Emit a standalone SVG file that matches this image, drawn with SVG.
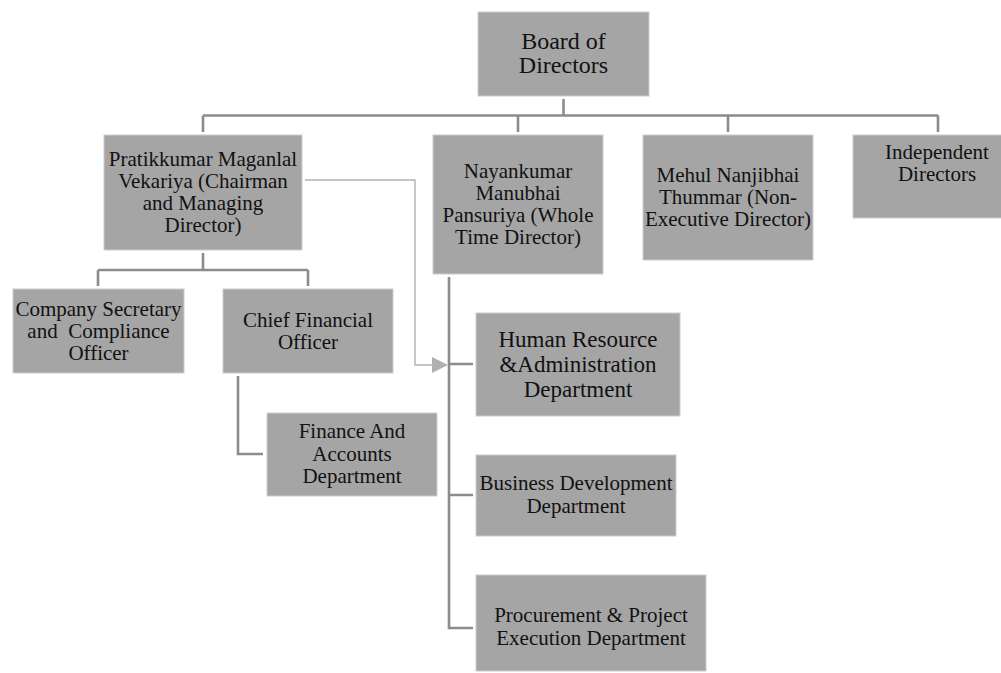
<svg xmlns="http://www.w3.org/2000/svg" width="1001" height="673" viewBox="0 0 1001 673">
<defs>
<style>
.box{fill:#a5a5a5;stroke:#cdcdcd;stroke-width:1}
.t{font-family:"Liberation Serif","Times New Roman",serif;font-size:21px;fill:#111;text-anchor:middle}
.big{font-size:23px}
.bd{font-size:24px}
.ln{fill:none;stroke:#8c8c8c;stroke-width:2.6}
.lt{fill:none;stroke:#b0b0b0;stroke-width:1.4}
</style>
</defs>
<rect width="1001" height="673" fill="#ffffff"/>
<g id="connectors">
<path class="ln" d="M563.5,99 V116 M203,115.5 H938 M203,115.5 V132 M518,115.5 V132 M728,115.5 V132 M938,115.5 V132"/>
<path class="ln" d="M203,253 V270 M98,270 H308 M98,270 V286 M308,270 V286"/>
<path class="ln" d="M238,376 V454 H263"/>
<path class="ln" d="M449,277 V628 H473 M449,364 H473 M449,495 H473"/>
<path class="lt" d="M305,180 H415 V365 H433"/>
<polygon points="432,357 448,365 432,373" fill="#b0b0b0"/>
</g>
<g id="board">
<rect class="box" x="478" y="12" width="171" height="84"/>
<text class="t bd" x="563.5" y="49">Board of</text>
<text class="t bd" x="563.5" y="73">Directors</text>
</g>
<g id="pratik">
<rect class="box" x="104" y="135" width="198" height="115"/>
<text class="t" x="203" y="166">Pratikkumar Maganlal</text>
<text class="t" x="203" y="188">Vekariya (Chairman</text>
<text class="t" x="203" y="210">and Managing</text>
<text class="t" x="203" y="232">Director)</text>
</g>
<g id="nayan">
<rect class="box" x="433" y="135" width="170" height="139"/>
<text class="t" x="518" y="178">Nayankumar</text>
<text class="t" x="518" y="200">Manubhai</text>
<text class="t" x="518" y="222">Pansuriya (Whole</text>
<text class="t" x="518" y="244">Time Director)</text>
</g>
<g id="mehul">
<rect class="box" x="643" y="135" width="170" height="125"/>
<text class="t" x="728" y="182">Mehul Nanjibhai</text>
<text class="t" x="728" y="204">Thummar (Non-</text>
<text class="t" x="728" y="226">Executive Director)</text>
</g>
<g id="independent">
<rect class="box" x="853" y="135" width="170" height="83"/>
<text class="t" x="937" y="159">Independent</text>
<text class="t" x="937" y="181">Directors</text>
</g>
<g id="company-secretary">
<rect class="box" x="13" y="289" width="171" height="84"/>
<text class="t" x="98.5" y="316">Company Secretary</text>
<text class="t" x="98.5" y="338" xml:space="preserve">and  Compliance</text>
<text class="t" x="98.5" y="360">Officer</text>
</g>
<g id="cfo">
<rect class="box" x="223" y="289" width="170" height="84"/>
<text class="t" x="308" y="327">Chief Financial</text>
<text class="t" x="308" y="349">Officer</text>
</g>
<g id="finance">
<rect class="box" x="267" y="413" width="170" height="83"/>
<text class="t" x="352" y="438">Finance And</text>
<text class="t" x="352" y="461">Accounts</text>
<text class="t" x="352" y="483">Department</text>
</g>
<g id="hr">
<rect class="box" x="476" y="313" width="204" height="103"/>
<text class="t big" x="578" y="347">Human Resource</text>
<text class="t big" x="578" y="372">&amp;Administration</text>
<text class="t big" x="578" y="397">Department</text>
</g>
<g id="business-development">
<rect class="box" x="476" y="455" width="200" height="81"/>
<text class="t" x="576" y="490">Business Development</text>
<text class="t" x="576" y="513">Department</text>
</g>
<g id="procurement">
<rect class="box" x="476" y="575" width="230" height="96"/>
<text class="t" x="591" y="622">Procurement &amp; Project</text>
<text class="t" x="591" y="645">Execution Department</text>
</g>
</svg>
